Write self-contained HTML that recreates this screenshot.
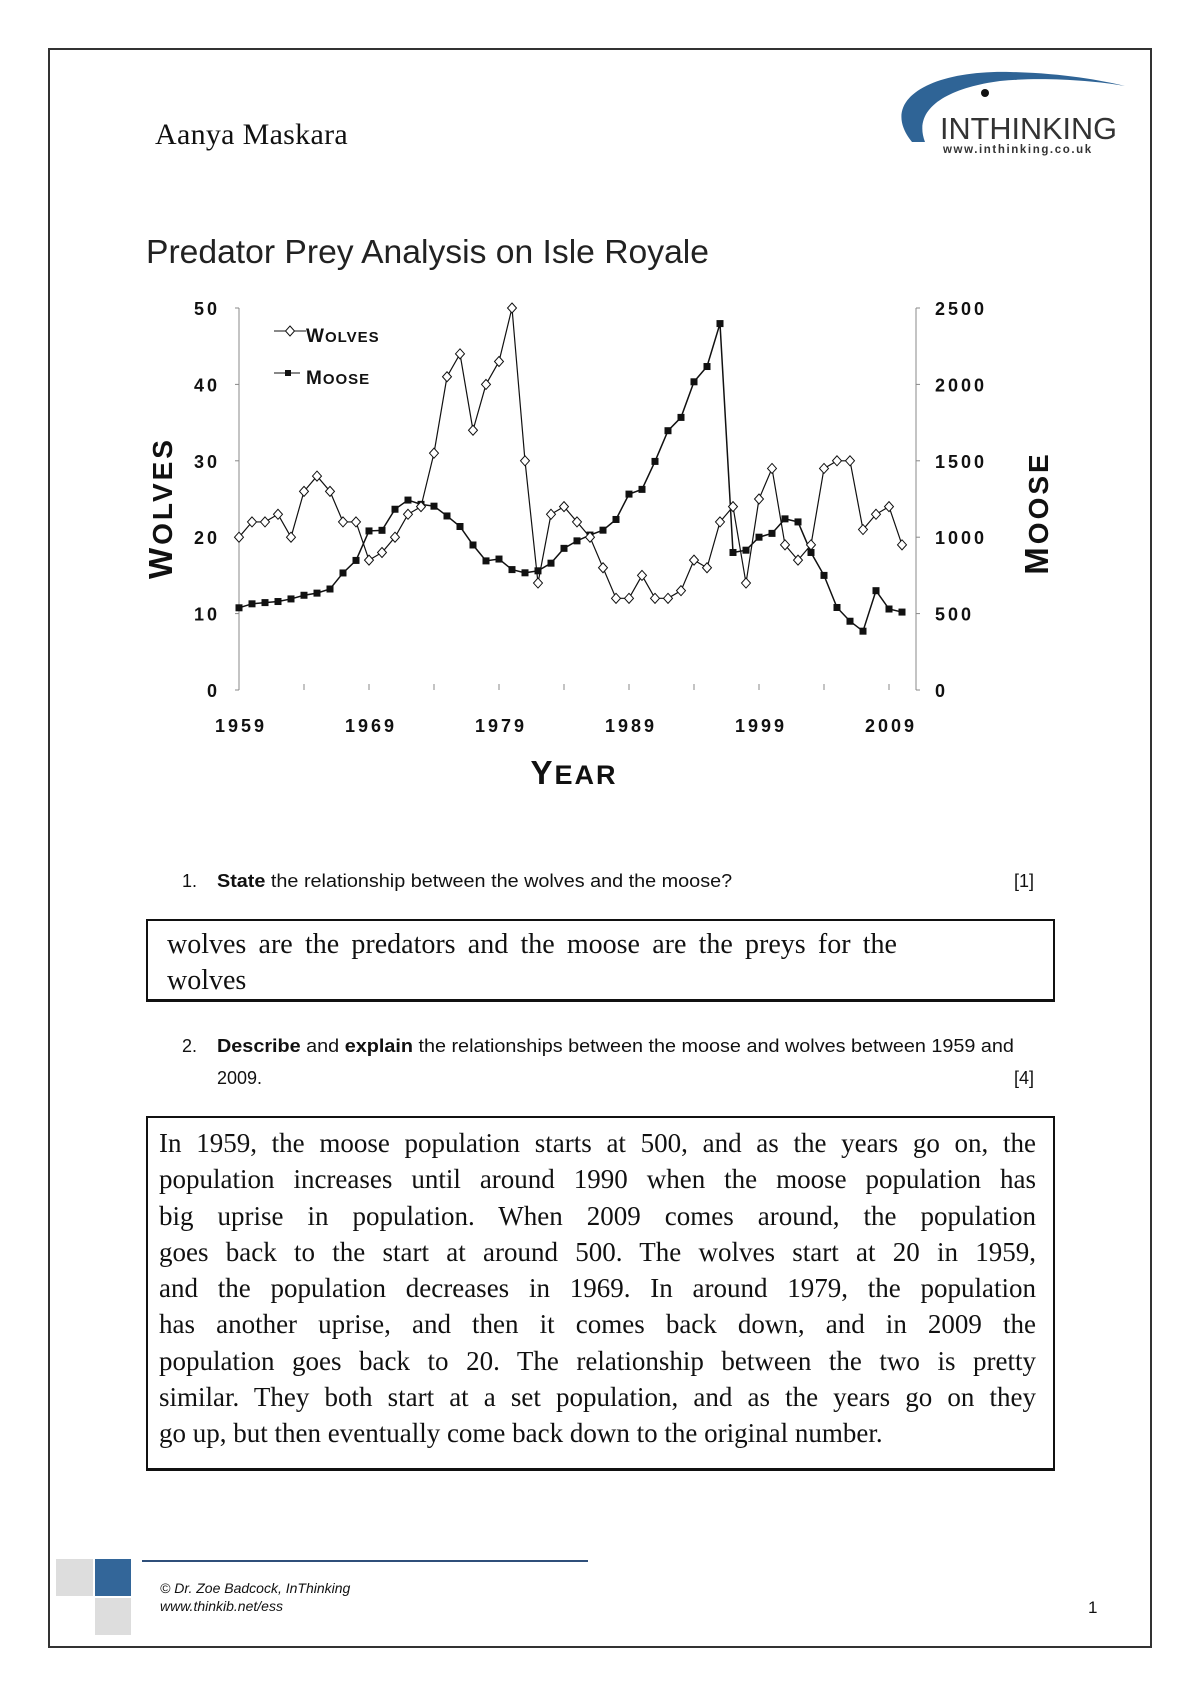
<!DOCTYPE html>
<html><head><meta charset="utf-8"><style>
*{margin:0;padding:0}
body{width:1200px;height:1696px;background:#fff;position:relative;overflow:hidden;font-family:"Liberation Sans",sans-serif}
.a{position:absolute}
.border{left:48px;top:48px;width:1100px;height:1596px;border:2px solid #333}
.name{left:155px;top:118px;font:30px "Liberation Serif",serif;color:#111;letter-spacing:0.3px}
.q{font-size:18px;color:#111;font-family:"Liberation Sans",sans-serif;transform-origin:0 0;white-space:nowrap}
.box{left:146px;width:905px;border:2px solid #111;border-bottom-width:3px}
.ans{font:27px/36.3px "Liberation Serif",serif;color:#111}
.ans div{text-align:justify;text-align-last:justify;white-space:nowrap}
.ans div.l{text-align-last:left}
.foot{font:italic 14px "Liberation Sans",sans-serif;color:#111}
</style></head><body>
<div class="a border"></div>
<div class="a name">Aanya Maskara</div>

<svg class="a" style="left:0;top:0" width="1200" height="800">
 <path d="M912 142 C 878 100, 930 70, 1010 72 C 1060 73, 1100 80, 1125 86 C 1090 80, 1040 77, 1000 81 C 948 88, 912 108, 925 142 Z" fill="#2f6496"/>
 <text x="940" y="139" font-family="Liberation Sans" font-size="31" fill="#333" textLength="177" lengthAdjust="spacingAndGlyphs">INTHINKING</text>
 <circle cx="985" cy="93" r="4" fill="#111"/>
 <text x="943" y="153" font-family="Liberation Sans" font-size="11.5" font-weight="bold" fill="#333" letter-spacing="1.6">www.inthinking.co.uk</text>
 <text x="146" y="263" font-family="Liberation Sans" font-size="33" fill="#222" textLength="563" lengthAdjust="spacingAndGlyphs">Predator Prey Analysis on Isle Royale</text>
 <g id="chart" font-family="Liberation Sans" fill="#111" font-weight="bold"></g>
</svg>

<div class="a q" style="left:182px;top:871px">1.</div>
<div class="a q" style="left:217px;top:871px;transform:scaleX(1.1)"><b>State</b> the relationship between the wolves and the moose?</div>
<div class="a q" style="left:1014px;top:871px">[1]</div>
<div class="a box" style="top:919px;height:78px"></div>
<div class="a ans" style="left:167px;top:927px;width:730px;font-size:28px"><div>wolves are the predators and the moose are the preys for the</div><div class="l">wolves</div></div>

<div class="a q" style="left:182px;top:1036px">2.</div>
<div class="a q" style="left:217px;top:1036px;transform:scaleX(1.1)"><b>Describe</b> and <b>explain</b> the relationships between the moose and wolves between 1959 and</div>
<div class="a q" style="left:217px;top:1068px">2009.</div>
<div class="a q" style="left:1014px;top:1068px">[4]</div>
<div class="a box" style="top:1116px;height:350px"></div>
<div class="a ans" style="left:159px;top:1125px;width:877px">
<div>In 1959, the moose population starts at 500, and as the years go on, the</div>
<div>population increases until around 1990 when the moose population has</div>
<div>big uprise in population. When 2009 comes around, the population</div>
<div>goes back to the start at around 500. The wolves start at 20 in 1959,</div>
<div>and the population decreases in 1969. In around 1979, the population</div>
<div>has another uprise, and then it comes back down, and in 2009 the</div>
<div>population goes back to 20. The relationship between the two is pretty</div>
<div>similar. They both start at a set population, and as the years go on they</div>
<div class="l">go up, but then eventually come back down to the original number.</div>
</div>

<div class="a" style="left:56px;top:1559px;width:37px;height:37px;background:#ddd"></div>
<div class="a" style="left:95px;top:1559px;width:36px;height:37px;background:#336699"></div>
<div class="a" style="left:95px;top:1598px;width:36px;height:37px;background:#ddd"></div>
<div class="a" style="left:142px;top:1560px;width:446px;height:2px;background:#2f4f7a"></div>
<div class="a foot" style="left:160px;top:1580px">© Dr. Zoe Badcock, InThinking</div>
<div class="a foot" style="left:160px;top:1598px">www.thinkib.net/ess</div>
<div class="a" style="left:1088px;top:1598px;font:17px 'Liberation Sans',sans-serif;color:#111">1</div>

<script>
var W=[20,22,22,23,20,26,28,26,22,22,17,18,20,23,24,31,41,44,34,40,43,50,30,14,23,24,22,20,16,12,12,15,12,12,13,17,16,22,24,14,25,29,19,17,19,29,30,30,21,23,24,19];
var M=[538,564,572,579,596,620,634,661,766,848,1041,1045,1183,1243,1215,1203,1139,1070,949,845,857,788,767,780,830,927,976,1014,1046,1116,1282,1313,1496,1697,1784,2017,2117,2398,900,915,1000,1025,1120,1100,900,750,540,450,385,650,530,510];
var X=function(i){return 239+i*13.0};
var YW=function(w){return 690-w*7.64};
var YM=function(m){return 690-m*0.1528};
var s='';
s+='<line x1="239" y1="308" x2="239" y2="690" stroke="#888" stroke-width="1"/>';
s+='<line x1="916" y1="308" x2="916" y2="690" stroke="#888" stroke-width="1"/>';
for(var k=0;k<=5;k++){var y=690-k*76.4;
 s+='<line x1="235" y1="'+y+'" x2="239" y2="'+y+'" stroke="#888"/>';
 s+='<line x1="916" y1="'+y+'" x2="920" y2="'+y+'" stroke="#888"/>';
 s+='<text x="220" y="'+(y+7)+'" text-anchor="end" font-size="18" letter-spacing="3">'+(k*10)+'</text>';
 s+='<text x="935" y="'+(y+7)+'" font-size="18" letter-spacing="3">'+(k*500)+'</text>';}
for(var i=0;i<=10;i++){var x=239+i*65;s+='<line x1="'+x+'" y1="684" x2="'+x+'" y2="690" stroke="#888"/>';}
for(var i=0;i<6;i++){s+='<text x="'+(241+i*130)+'" y="732" text-anchor="middle" font-size="18" letter-spacing="3">'+(1959+i*10)+'</text>';}
var pw='',pm='';
for(var i=0;i<W.length;i++){pw+=(i?'L':'M')+X(i)+' '+YW(W[i]);pm+=(i?'L':'M')+X(i)+' '+YM(M[i]);}
s+='<path d="'+pm+'" fill="none" stroke="#111" stroke-width="1.5"/>';
s+='<path d="'+pw+'" fill="none" stroke="#111" stroke-width="1.2"/>';
for(var i=0;i<W.length;i++){var x=X(i),y=YM(M[i]);s+='<rect x="'+(x-3.5)+'" y="'+(y-3.5)+'" width="7" height="7" fill="#111"/>';}
for(var i=0;i<W.length;i++){var x=X(i),y=YW(W[i]);s+='<path d="M'+x+' '+(y-5)+'L'+(x+4.5)+' '+y+'L'+x+' '+(y+5)+'L'+(x-4.5)+' '+y+'Z" fill="#fff" stroke="#111" stroke-width="1"/>';}
s+='<line x1="274" y1="331" x2="306" y2="331" stroke="#111"/><path d="M290 326L294.5 331L290 336L285.5 331Z" fill="#fff" stroke="#111"/>';
s+='<text x="306" y="342" font-size="19" letter-spacing="1">W<tspan font-size="15">OLVES</tspan></text>';
s+='<line x1="274" y1="373" x2="300" y2="373" stroke="#111"/><rect x="285" y="370" width="6" height="6" fill="#111"/>';
s+='<text x="306" y="384" font-size="19" letter-spacing="1">M<tspan font-size="15">OOSE</tspan></text>';
s+='<text x="574" y="784" text-anchor="middle" font-size="33" letter-spacing="2">Y<tspan font-size="27">EAR</tspan></text>';
s+='<text transform="translate(172,508) rotate(-90)" text-anchor="middle" font-size="33" letter-spacing="3">W<tspan font-size="28">OLVES</tspan></text>';
s+='<text transform="translate(1048,513) rotate(-90)" text-anchor="middle" font-size="33" letter-spacing="3">M<tspan font-size="28">OOSE</tspan></text>';
document.getElementById('chart').innerHTML=s;
</script>
</body></html>
